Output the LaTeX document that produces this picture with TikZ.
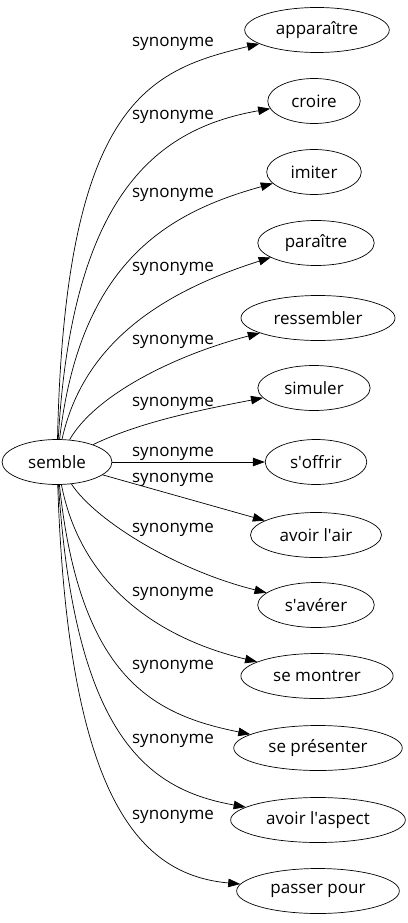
\documentclass[tikz,border=0pt]{standalone}
\usepackage{fontspec}
\setmainfont{Open Sans}
\usetikzlibrary{arrows.meta,shapes.geometric}

\begin{document}
\begin{tikzpicture}[x=1pt,y=-1pt,line width=0.7pt,
  word/.style={draw,ellipse,inner xsep=10pt,inner ysep=2pt,minimum height=45pt,font=\fontsize{17}{20}\selectfont},
  lbl/.style={font=\fontsize{17}{20}\selectfont,inner sep=0pt},
  syn/.style={-{Triangle[length=12pt,width=8.5pt]}}]
\useasboundingbox (0,0) rectangle (407,923);

% Centre word
\node[word] (semble) at (57,462) {semble};

% Synonyms
\node[word] (appar) at (317,30) {apparaître};
\node[word] (croire) at (314,101) {croire};
\node[word] (imiter) at (314,172) {imiter};
\node[word] (parait) at (316,243) {paraître};
\node[word] (ressem) at (318,318) {ressembler};
\node[word] (simuler) at (314,388) {simuler};
\node[word] (soffrir) at (316,462) {s\textquotesingle offrir};
\node[word] (air) at (316,535) {avoir l\textquotesingle air};
\node[word] (saverer) at (316,605) {s\textquotesingle avérer};
\node[word] (montrer) at (317,676) {se montrer};
\node[word] (present) at (318,748) {se présenter};
\node[word] (aspect) at (318,820) {avoir l\textquotesingle aspect};
\node[word] (passer) at (318,891) {passer pour};

% Edges
\draw[syn] (semble) .. controls (65,100) and (150,70) .. (appar);
\draw[syn] (semble) .. controls (72,190) and (160,128) .. (croire);
\draw[syn] (semble) .. controls (80,260) and (170,212) .. (imiter);
\draw[syn] (semble) .. controls (85,335) and (175,288) .. (parait);
\draw[syn] (semble) .. controls (95,395) and (175,355) .. (ressem);
\draw[syn] (semble) .. controls (140,422) and (200,410) .. (simuler);
\draw[syn] (semble) -- (soffrir);
\draw[syn] (semble) -- (air);
\draw[syn] (semble) .. controls (95,520) and (175,570) .. (saverer);
\draw[syn] (semble) .. controls (82,590) and (165,640) .. (montrer);
\draw[syn] (semble) .. controls (80,680) and (155,715) .. (present);
\draw[syn] (semble) .. controls (75,740) and (150,790) .. (aspect);
\draw[syn] (semble) .. controls (68,800) and (140,875) .. (passer);

% Labels
\node[lbl] (l1) at (173,44) {synonyme};
\node[lbl] (l2) at (173,117) {synonyme};
\node[lbl] (l3) at (173,195) {synonyme};
\node[lbl] (l4) at (173,269) {synonyme};
\node[lbl] (l5) at (173,342) {synonyme};
\node[lbl] (l6) at (173,404) {synonyme};
\node[lbl] (l7) at (173,454) {synonyme};
\node[lbl] (l8) at (173,480) {synonyme};
\node[lbl] (l9) at (173,530) {synonyme};
\node[lbl] (l10) at (173,594) {synonyme};
\node[lbl] (l11) at (173,667) {synonyme};
\node[lbl] (l12) at (173,741) {synonyme};
\node[lbl] (l13) at (173,817) {synonyme};
\end{tikzpicture}
\end{document}
